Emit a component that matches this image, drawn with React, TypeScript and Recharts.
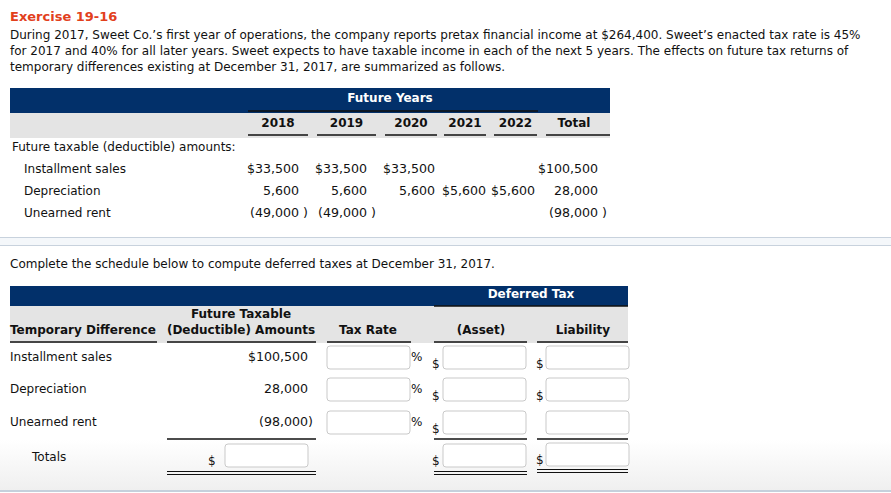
import React from 'react';
import { Surface, Layer, Rectangle, Text } from 'recharts';

// exercise text
const title = 'Exercise 19-16';
const introLines = [
  'During 2017, Sweet Co.\u2019s first year of operations, the company reports pretax financial income at $264,400. Sweet\u2019s enacted tax rate is 45%',
  'for 2017 and 40% for all later years. Sweet expects to have taxable income in each of the next 5 years. The effects on future tax returns of',
  'temporary differences existing at December 31, 2017, are summarized as follows.',
];
const instruction = 'Complete the schedule below to compute deferred taxes at December 31, 2017.';

// table 1: future years
const years = ['2018', '2019', '2020', '2021', '2022'];
const differences = ['Installment sales', 'Depreciation', 'Unearned rent'];
const installmentSales = [33500, 33500, 33500, null, null];
const depreciation = [5600, 5600, 5600, 5600, 5600];
const unearnedRent = [-49000, -49000, null, null, null];
const totals = [100500, 28000, -98000];

// table 2: schedule headers
const scheduleHeaders = ['Temporary Difference', 'Tax Rate', '(Asset)', 'Liability'];

const FONT = '"DejaVu Sans", Verdana, sans-serif';
const NAVY = '#02306a';
const GRAY = '#e4e4e4';
const NUM = 12.6;

const fmt = (v: number, dollar: boolean, spaced: boolean) => {
  const s = Math.abs(v).toLocaleString('en-US');
  if (v < 0) return spaced ? `(${s} )` : `(${s})`;
  return dollar ? `$${s}` : s;
};

const T = (p: any) => (
  <Text fontFamily={FONT} fontSize={12} fill="#111" verticalAnchor="middle" {...p} />
);

const Box = ({ x, y, w = 83, h = 23 }: any) => (
  <Rectangle x={x} y={y} width={w} height={h} radius={3} fill="#fff" stroke="#c9c9c9" strokeWidth={1} />
);

const HLine = ({ x1, x2, y, w = 1.5 }: any) => (
  <line x1={x1} x2={x2} y1={y} y2={y} stroke="#111" strokeWidth={w} />
);

const colRight = [299, 367, 435, 486, 535];
const colLine: [number, number][] = [[248, 308], [317, 376], [385, 437], [444, 486], [494, 537]];
const rows1 = [installmentSales, depreciation, unearnedRent];
const rowY1 = [169, 191, 213];
const rowY2 = [357, 389, 422];

export default function App() {
  return (
    <div style={{ position: 'absolute', left: 0, top: 0, width: 891, height: 493, background: '#fff' }}>
      <Surface width={891} height={493}>
        <defs>
          <linearGradient id="fade" x1="0" y1="0" x2="0" y2="1">
            <stop offset="0" stopColor="#ffffff" />
            <stop offset="1" stopColor="#efefef" />
          </linearGradient>
        </defs>

        <T x={10} y={16} fontWeight="bold" fontSize={13} fill="#e2401c">{title}</T>
        {introLines.map((l, i) => (
          <T key={i} x={10} y={35 + i * 16}>{l}</T>
        ))}

        {/* table 1 */}
        <Layer>
          <Rectangle x={10} y={88} width={600} height={25} fill={NAVY} />
          <Rectangle x={10} y={113} width={600} height={25} fill={GRAY} />
          <T x={390} y={98} textAnchor="middle" fontWeight="bold" fill="#fff">Future Years</T>
          <HLine x1={248} x2={538} y={111} />
          {years.map((yr, i) => (
            <React.Fragment key={yr}>
              <T x={(colLine[i][0] + colLine[i][1]) / 2} y={123} textAnchor="middle" fontWeight="bold">{yr}</T>
              <HLine x1={colLine[i][0]} x2={colLine[i][1]} y={135} />
            </React.Fragment>
          ))}
          <T x={574} y={123} textAnchor="middle" fontWeight="bold">Total</T>
          <HLine x1={546} x2={610} y={135} />
          <T x={12} y={147}>Future taxable (deductible) amounts:</T>
          {differences.map((d, r) => (
            <React.Fragment key={d}>
              <T x={24} y={rowY1[r]}>{d}</T>
              {rows1[r].map((v, c) => {
                if (v == null) return null;
                const first = rows1.findIndex((row) => row[c] != null) === r;
                return (
                  <T key={c} x={v < 0 ? colRight[c] + 9 : colRight[c]} y={rowY1[r]} textAnchor="end" fontSize={NUM}>
                    {fmt(v, first, true)}
                  </T>
                );
              })}
              <T x={totals[r] < 0 ? 607 : 598} y={rowY1[r]} textAnchor="end" fontSize={NUM}>{fmt(totals[r], r === 0, true)}</T>
            </React.Fragment>
          ))}
        </Layer>

        {/* separator band */}
        <Rectangle x={0} y={237} width={891} height={9} fill="#f4f7fa" />
        <line x1={0} x2={891} y1={237.5} y2={237.5} stroke="#c8d2dd" />
        <line x1={0} x2={891} y1={245.5} y2={245.5} stroke="#c8d2dd" />

        <T x={10} y={264}>{instruction}</T>

        {/* bottom fade */}
        <Rectangle x={0} y={440} width={891} height={51} fill="url(#fade)" />
        <line x1={0} x2={891} y1={491} y2={491} stroke="#c5d0dc" strokeWidth={2} />

        {/* table 2 */}
        <Layer>
          <Rectangle x={10} y={286} width={618} height={20} fill={NAVY} />
          <Rectangle x={10} y={306} width={618} height={37} fill={GRAY} />
          <T x={531} y={294} textAnchor="middle" fontWeight="bold" fill="#fff">Deferred Tax</T>
          <HLine x1={434} x2={628} y={306} />
          <T x={241} y={314} textAnchor="middle" fontWeight="bold">Future Taxable</T>
          <T x={241} y={330} textAnchor="middle" fontWeight="bold">(Deductible) Amounts</T>
          <T x={10} y={330} fontWeight="bold">{scheduleHeaders[0]}</T>
          <T x={368} y={330} textAnchor="middle" fontWeight="bold">{scheduleHeaders[1]}</T>
          <T x={481} y={330} textAnchor="middle" fontWeight="bold">{scheduleHeaders[2]}</T>
          <T x={583} y={330} textAnchor="middle" fontWeight="bold">{scheduleHeaders[3]}</T>
          <HLine x1={10} x2={157} y={342} />
          <HLine x1={167} x2={316} y={342} />
          <HLine x1={327} x2={411} y={342} />
          <HLine x1={434} x2={527} y={342} />
          <HLine x1={537} x2={628} y={342} />

          {differences.map((d, r) => (
            <React.Fragment key={d}>
              <T x={10} y={rowY2[r]}>{d}</T>
              <T x={totals[r] < 0 ? 313 : 308} y={rowY2[r]} textAnchor="end" fontSize={NUM}>{fmt(totals[r], r === 0, false)}</T>
              <Box x={327} y={rowY2[r] - 11} />
              <T x={411} y={rowY2[r]}>%</T>
              <T x={432} y={rowY2[r] + 7}>$</T>
              <Box x={443} y={rowY2[r] - 11} />
              {r < 2 && <T x={536} y={rowY2[r] + 7}>$</T>}
              <Box x={546} y={rowY2[r] - 11} />
            </React.Fragment>
          ))}

          <HLine x1={167} x2={316} y={439} />
          <HLine x1={434} x2={527} y={439} />
          <HLine x1={537} x2={628} y={439} />
          <T x={32} y={457}>Totals</T>
          <T x={208} y={461}>$</T>
          <Box x={225} y={444} />
          <T x={432} y={461}>$</T>
          <Box x={443} y={444} />
          <T x={536} y={460}>$</T>
          <Box x={546} y={443} />
          <HLine x1={167} x2={316} y={471.5} w={1.2} />
          <HLine x1={167} x2={316} y={474.5} w={1.2} />
          <HLine x1={434} x2={527} y={471.5} w={1.2} />
          <HLine x1={434} x2={527} y={474.5} w={1.2} />
          <HLine x1={537} x2={628} y={469.5} w={1.2} />
          <HLine x1={537} x2={628} y={472.5} w={1.2} />
        </Layer>
      </Surface>
    </div>
  );
}
